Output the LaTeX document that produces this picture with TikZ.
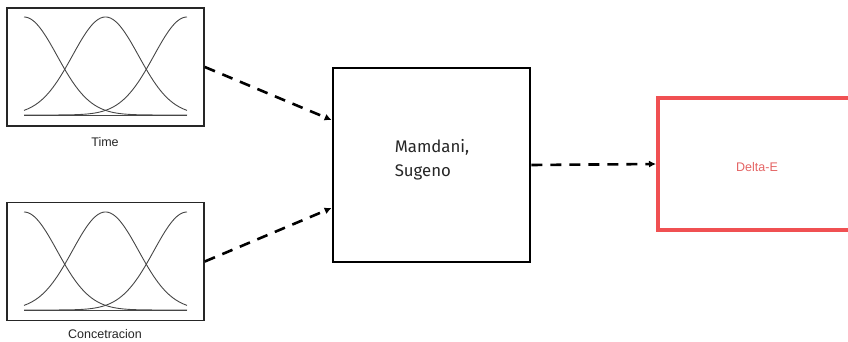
\documentclass[tikz,border=0pt]{standalone}
\usepackage{fontspec}
\setmainfont{Liberation Sans}
\newfontfamily\mfont{Fira Sans}
\usetikzlibrary{arrows.meta}
\definecolor{redbox}{RGB}{240,80,82}
\definecolor{redtxt}{RGB}{228,100,100}
\definecolor{mfgray}{RGB}{70,70,70}
\tikzset{
  mfbox/.style={draw=black!85, line width=1.6pt, minimum width=197pt, minimum height=118pt, inner sep=0pt},
  mainbox/.style={draw=black, line width=2.8pt, minimum width=197pt, minimum height=194pt, inner sep=0pt},
  outbox/.style={draw=redbox, line width=4pt, minimum width=200pt, minimum height=132pt, inner sep=0pt},
  flow/.style={line width=2.6pt, dash pattern=on 11pt off 8pt, -{Latex[length=7pt,width=7pt]}},
  curve/.style={mfgray, line width=0.9pt},
  lab/.style={font=\fontsize{12.5}{14}\selectfont, text=black!85}
}
\begin{document}
\begin{tikzpicture}[x=1pt,y=-1pt]
\useasboundingbox (0,0) rectangle (848,342);
\node[mfbox] (time) at (105.5,67) {};
\node[mfbox] (conc) at (105.5,261.5) {};
\node[mainbox] (inf) at (431.5,165) {};
\node[outbox] (out) at (758,164) {};
\node[lab] (timel) at (105,142) {Time};
\node[lab] (concl) at (105,334.5) {Concetracion};
\node[font=\mfont\fontsize{16.8}{24}\selectfont, align=left, text=black!85] (infl) at (432,160) {Mamdani,\\Sugeno};
\node[font=\fontsize{12.5}{14}\selectfont, text=redtxt] (outl) at (757,167) {Delta-E};
\foreach \dy in {0,195}{
  \draw[curve] (24,115+\dy) -- (187,115+\dy);
  \foreach \c in {24,105.5,187}{
    \draw[curve] plot[domain=24:187, samples=80, smooth] (\x,{115+\dy-98*exp(-0.5*((\x-\c)/33)^2)});
  }
}
\draw[flow] (time.east) -- ([yshift=45pt]inf.west);
\draw[flow] (conc.east) -- ([yshift=-43pt]inf.west);
\draw[flow] (inf.east) -- (out.west);
\end{tikzpicture}
\end{document}
